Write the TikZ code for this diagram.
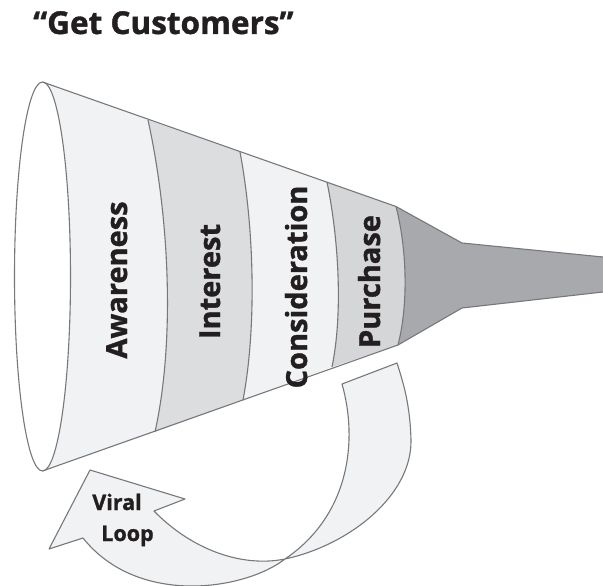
\documentclass[tikz,border=0pt]{standalone}
\usepackage{fontspec}
\setmainfont{Open Sans}[BoldFeatures={FakeBold=1.2}]
\definecolor{lineGray}{HTML}{77787B}
\definecolor{lightFill}{HTML}{F1F2F3}
\definecolor{midFill}{HTML}{DCDDDF}
\definecolor{darkFill}{HTML}{A7A9AC}
\definecolor{ink}{HTML}{231F20}
\begin{document}
\begin{tikzpicture}[x=1pt,y=-1pt,
  edge/.style={draw=lineGray, line width=1.1pt, line join=round},
  stage/.style={font=\bfseries\fontsize{29}{34}\selectfont, text=ink, inner sep=0pt, anchor=base, rotate=90},
  loopText/.style={font=\bfseries\fontsize{21.5}{25}\selectfont, text=ink, inner sep=0pt, anchor=base},
]
\useasboundingbox (0,0) rectangle (603,586);

% key points of the funnel
\coordinate (tA) at (42.5,82);
\coordinate (t1) at (148,120);
\coordinate (t2) at (240,152);
\coordinate (t3) at (327,182);
\coordinate (t4) at (396,206.5);
\coordinate (n1) at (462,243);
\coordinate (e1) at (603,257);
\coordinate (e2) at (603,292);
\coordinate (n2) at (462,308);
\coordinate (b4) at (398,345);
\coordinate (b3) at (332,367);
\coordinate (b2) at (243,400);
\coordinate (b1) at (155,432);
\coordinate (bA) at (42.5,471);
\coordinate (eC) at (42.5,276.5);

% band fills
\fill[lightFill] (tA) -- (t1) .. controls (168.7,214) and (175.7,338) .. (b1) -- (bA) -- cycle;
\fill[midFill] (t1) -- (t2) .. controls (254,226) and (257,326) .. (b2) -- (b1) .. controls (175.7,338) and (168.7,214) .. (t1) -- cycle;
\fill[lightFill] (t2) -- (t3) .. controls (338.3,237) and (343.3,312) .. (b3) -- (b2) .. controls (257,326) and (254,226) .. (t2) -- cycle;
\fill[midFill!97!black] (t3) -- (t4) .. controls (406.7,248) and (408.7,303) .. (b4) -- (b3) .. controls (343.3,312) and (338.3,237) .. (t3) -- cycle;
\fill[darkFill] (t4) -- (n1) -- (e1) -- (e2) -- (n2) -- (b4) .. controls (408.7,303) and (406.7,248) .. (t4) -- cycle;

% mouth of the funnel
\path[edge, fill=white] (eC) ellipse [x radius=28pt, y radius=194.5pt];

% band boundaries
\draw[edge] (t1) .. controls (168.7,214) and (175.7,338) .. (b1);
\draw[edge] (t2) .. controls (254,226) and (257,326) .. (b2);
\draw[edge] (t3) .. controls (338.3,237) and (343.3,312) .. (b3);
\draw[edge] (t4) .. controls (406.7,248) and (408.7,303) .. (b4);

% funnel outline
\draw[edge] (tA) -- (t4) -- (n1) -- (e1);
\draw[edge] (bA) -- (b4) -- (n2) -- (e2);

% stage labels
\node[stage] (aw) at (127,280) {Awareness};
\node[stage] (in) at (220,281.5) {Interest};
\node[stage] (co) at (307,287) {Consideration};
\node[stage] (pu) at (380,281.5) {Purchase};

% viral loop arrow
\path[edge, fill=lightFill] (90,470) -- (185,499) -- (154,511)
  .. controls (190,548) and (240,568) .. (285,559)
  .. controls (350,545) and (412,495) .. (411,440)
  .. controls (410,405) and (404,385) .. (397,363)
  -- (342,384)
  .. controls (358,440) and (350,515) .. (285,559)
  .. controls (245,590) and (138,607) .. (83,538)
  -- (49,549) -- cycle;

\node[loopText] (viral) at (117,510) {Viral};
\node[loopText] (loop) at (127.5,541) {Loop};

% title
\node[font=\bfseries\fontsize{31.5}{37}\selectfont, text=ink, inner sep=0pt, anchor=base west] (title) at (33,34) {“Get Customers”};
\end{tikzpicture}
\end{document}
